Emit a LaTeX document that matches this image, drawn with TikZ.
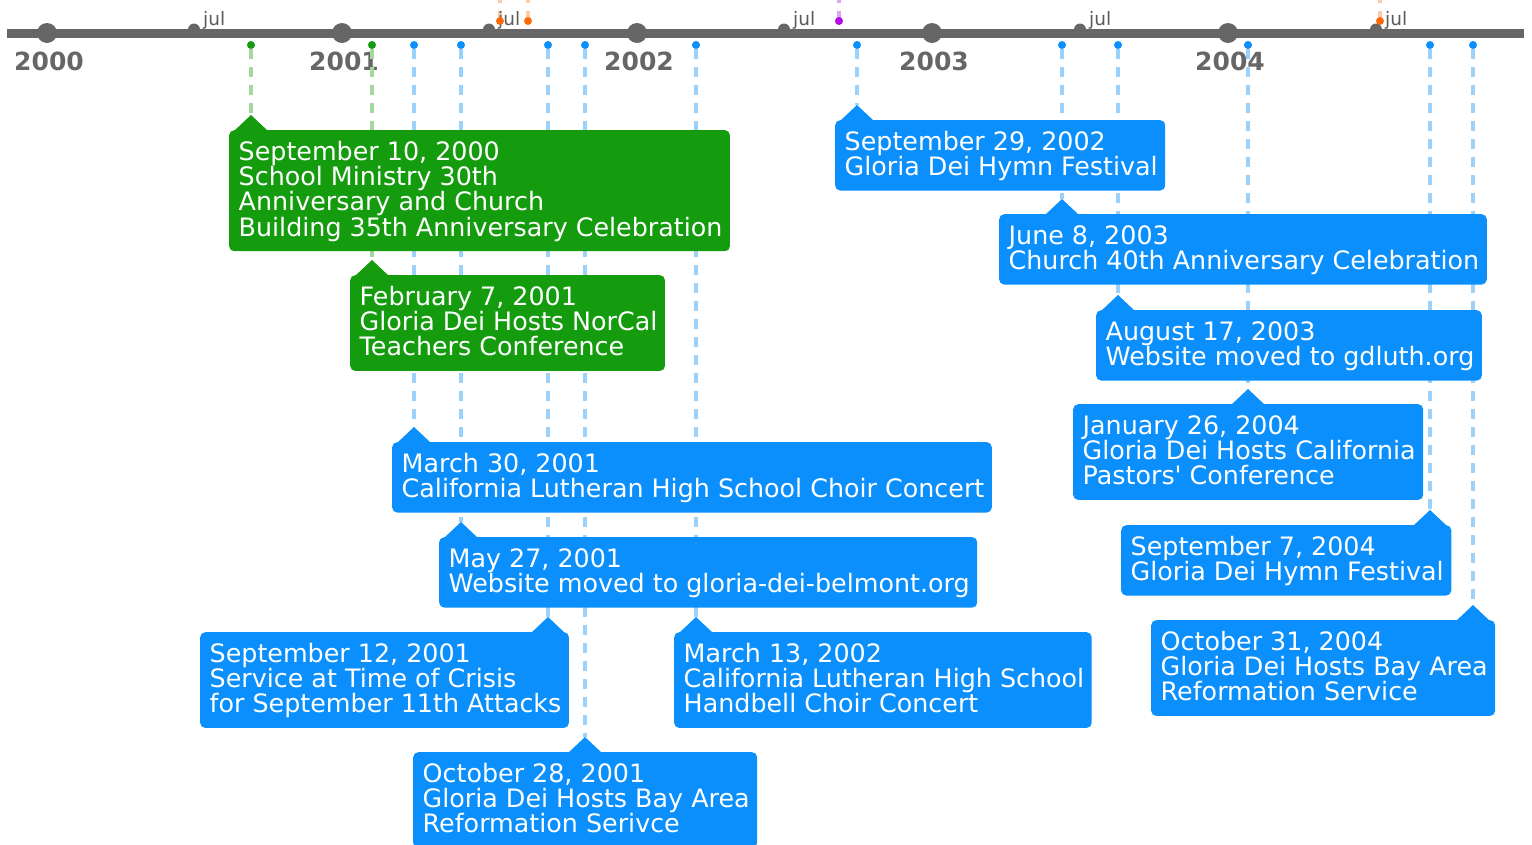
\documentclass[tikz,border=0pt]{standalone}
\usepackage{fontspec}
\setmainfont{DejaVu Sans}[Ligatures=TeXOff]
\definecolor{axisgray}{HTML}{666666}
\definecolor{julgray}{HTML}{5A5A5A}
\definecolor{evblue}{HTML}{0A8FFC}
\definecolor{evgreen}{HTML}{149C0E}
\definecolor{lnblue}{HTML}{9CD1FA}
\definecolor{lngreen}{HTML}{A5D89E}
\definecolor{evorange}{HTML}{FF6A08}
\definecolor{lnorange}{HTML}{FFCBA6}
\definecolor{evpurple}{HTML}{B40AE6}
\definecolor{lnpurple}{HTML}{DDA4F2}
\pgfdeclarelayer{bg}
\pgfsetlayers{bg,main}
\newcommand{\sr}{\rule[-5.33pt]{0pt}{25.33pt}\hspace*{2pt}}
\newcommand{\ev}[7]{%
  \node[evdot,fill=#5] (#1d) at (#2,45) {};
  \coordinate (#1t) at (#2,#4-15);
  \begin{pgfonlayer}{bg}\draw[evline,draw=#6] (#1d) -- (#1t);\end{pgfonlayer}
  \node[evbox,fill=#5,anchor=north west] (#1) at (#3,#4) {#7};
  \fill[#5] (#2-17,#4+1) -- (#1t) -- (#2+17,#4+1) -- cycle;
}
\begin{document}
\begin{tikzpicture}[x=1pt,y=-1pt,
  evdot/.style={circle,inner sep=0pt,minimum size=8pt,draw=none},
  evline/.style={line width=3.5pt,dash pattern=on 10pt off 8pt},
  evbox/.style={rounded corners=5pt,inner xsep=7.5pt,inner ysep=9.85pt,align=left,
    text=white,font=\fontsize{25.36pt}{25.33pt}\selectfont},
  yeardot/.style={circle,fill=axisgray,inner sep=0pt,minimum size=20pt},
  juldot/.style={circle,fill=axisgray,inner sep=0pt,minimum size=12pt},
  yearlbl/.style={anchor=base,text=axisgray,font=\fontsize{25pt}{28pt}\selectfont\bfseries},
  jullbl/.style={anchor=base west,text=julgray,font=\fontsize{18.5pt}{22pt}\selectfont,inner sep=0pt},
  topdot/.style={circle,inner sep=0pt,minimum size=8pt}]
\useasboundingbox (0,0) rectangle (1532,844);
% axis
\node[juldot] (j0) at (194,29.5) {};
\node[juldot] (j1) at (489,29.5) {};
\node[juldot] (j2) at (784,29.5) {};
\node[juldot] (j3) at (1080,29.5) {};
\node[juldot] (j4) at (1376,29.5) {};
\coordinate (axl) at (7,33);
\coordinate (axr) at (1524,33);
\draw[axisgray,line width=9pt] (axl) -- (axr);
\foreach \yx/\yl in {47/2000,342/2001,637/2002,932/2003,1228/2004}{
  \node[yeardot] (y\yl) at (\yx,33) {};
  \begin{pgfonlayer}{bg}\node[yearlbl] (l\yl) at (\yx+2,70) {\yl};\end{pgfonlayer}
}
\node[jullbl] (jl0) at (203,25) {jul};
\node[jullbl] (jl1) at (498,25) {jul};
\node[jullbl] (jl2) at (793,25) {jul};
\node[jullbl] (jl3) at (1089,25) {jul};
\node[jullbl] (jl4) at (1385,25) {jul};
% top markers
\foreach \tx/\tc/\tl [count=\i] in {500/evorange/lnorange,528/evorange/lnorange,839/evpurple/lnpurple,1380/evorange/lnorange}{
  \coordinate (tt\i) at (\tx,-6);
  \begin{pgfonlayer}{bg}\draw[evline,draw=\tl] (\tx,21) -- (tt\i);\end{pgfonlayer}
  \node[topdot,fill=\tc] (td\i) at (\tx,21) {};
}
% events
\ev{e1}{251}{229}{130}{evgreen}{lngreen}{\sr September 10, 2000\\\sr School Ministry 30th\\\sr Anniversary and Church\\\sr Building 35th Anniversary Celebration}
\ev{e2}{372}{350}{275}{evgreen}{lngreen}{\sr February 7, 2001\\\sr Gloria Dei Hosts NorCal\\\sr Teachers Conference}
\ev{e3}{414}{392}{442}{evblue}{lnblue}{\sr March 30, 2001\\\sr California Lutheran High School Choir Concert}
\ev{e4}{461}{439}{537}{evblue}{lnblue}{\sr May 27, 2001\\\sr Website moved to gloria-dei-belmont.org}
\ev{e5}{548}{200}{632}{evblue}{lnblue}{\sr September 12, 2001\\\sr Service at Time of Crisis\\\sr for September 11th Attacks}
\ev{e6}{585}{413}{752}{evblue}{lnblue}{\sr October 28, 2001\\\sr Gloria Dei Hosts Bay Area\\\sr Reformation Serivce}
\ev{e7}{696}{674}{632}{evblue}{lnblue}{\sr March 13, 2002\\\sr California Lutheran High School\\\sr Handbell Choir Concert}
\ev{e8}{857}{835}{120}{evblue}{lnblue}{\sr September 29, 2002\\\sr Gloria Dei Hymn Festival}
\ev{e9}{1062}{999}{214}{evblue}{lnblue}{\sr June 8, 2003\\\sr Church 40th Anniversary Celebration}
\ev{e10}{1118}{1096}{310}{evblue}{lnblue}{\sr August 17, 2003\\\sr Website moved to gdluth.org}
\ev{e11}{1248}{1073}{404}{evblue}{lnblue}{\sr January 26, 2004\\\sr Gloria Dei Hosts California\\\sr Pastors' Conference}
\ev{e12}{1430}{1121}{525}{evblue}{lnblue}{\sr September 7, 2004\\\sr Gloria Dei Hymn Festival}
\ev{e13}{1473}{1151}{620}{evblue}{lnblue}{\sr October 31, 2004\\\sr Gloria Dei Hosts Bay Area\\\sr Reformation Service}
\end{tikzpicture}
\end{document}
